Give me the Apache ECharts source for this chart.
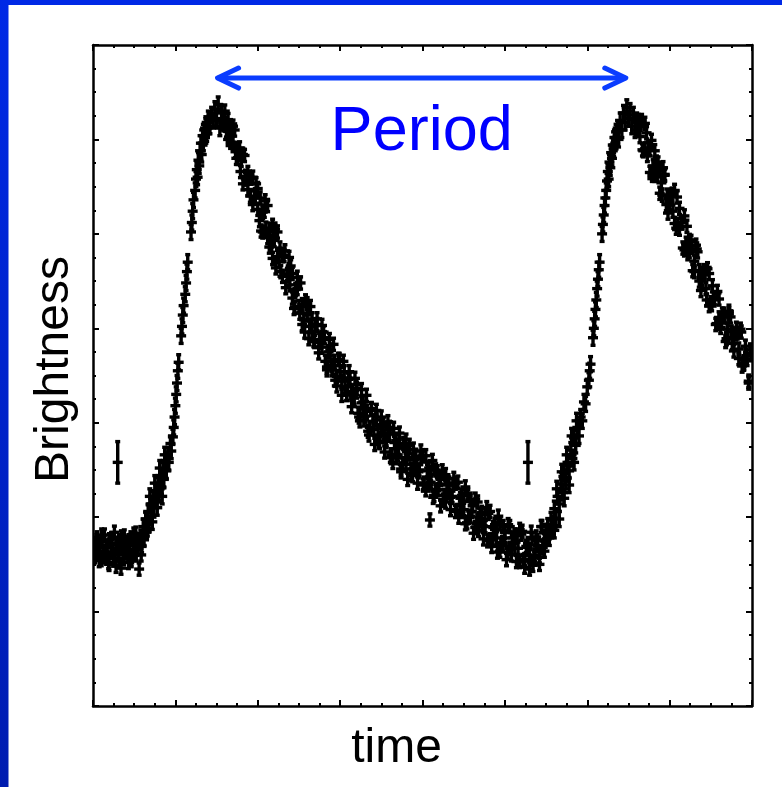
<!DOCTYPE html>
<html><head><meta charset="utf-8">
<script src="https://cdn.jsdelivr.net/npm/echarts@6/dist/echarts.min.js"></script>
<style>html,body{margin:0;padding:0;background:#fff;}#c{width:782px;height:787px;}</style>
</head><body><div id="c"></div>
<script>
// Axis ranges (arbitrary units: 8 time divisions, 7 brightness divisions)
const timeRange = [0, 8];
const brightRange = [0, 7];
const errNormal = 0.065;
const errRise = 0.08;

// Observations [time, brightness]
const minObs1 = [[0.01,1.72],[0.02,1.58],[0.04,1.66],[0.05,1.78],[0.07,1.62],[0.08,1.70],[0.10,1.55],[0.11,1.74],[0.13,1.64],[0.14,1.81],[0.16,1.59],[0.17,1.68],[0.19,1.52],[0.20,1.76],[0.22,1.63],[0.23,1.71],[0.25,1.57],[0.26,1.84],[0.28,1.48],[0.29,1.67],[0.31,1.60],[0.32,1.75],[0.34,1.46],[0.35,1.69],[0.37,1.56],[0.38,1.80],[0.40,1.62],[0.41,1.72],[0.43,1.52],[0.44,1.66],[0.46,1.78],[0.47,1.58],[0.49,1.70],[0.50,1.63],[0.52,1.83],[0.53,1.66],[0.55,1.74],[0.56,1.45],[0.58,1.80],[0.59,1.69]];
const minObs1b = [[0.015,1.62],[0.045,1.75],[0.075,1.54],[0.105,1.81],[0.135,1.58],[0.165,1.68],[0.195,1.50],[0.225,1.77],[0.255,1.61],[0.285,1.72],[0.315,1.55],[0.345,1.79],[0.375,1.65],[0.405,1.63],[0.435,1.75],[0.465,1.54],[0.495,1.82],[0.525,1.60],[0.555,1.73],[0.585,1.60]];

const riseObs1 = [[0.61,1.90],[0.62,1.78],[0.64,1.98],[0.65,1.84],[0.66,1.88],[0.67,2.05],[0.68,1.93],[0.69,2.22],[0.70,2.14],[0.71,2.00],[0.72,1.95],[0.73,2.20],[0.74,2.10],[0.75,2.36],[0.76,2.27],[0.77,2.18],[0.78,2.10],[0.79,2.36],[0.80,2.24],[0.81,2.52],[0.82,2.42],[0.83,2.31],[0.84,2.22],[0.85,2.50],[0.86,2.40],[0.87,2.66],[0.88,2.60],[0.89,2.49],[0.91,2.66],[0.92,2.58],[0.94,2.78],[0.95,2.70],[0.97,2.85],[0.98,2.95],[0.99,3.06],[1.00,3.18],[1.01,3.30],[1.02,3.42],[1.03,3.55],[1.04,3.64],[1.07,3.92],[1.08,4.02],[1.09,4.14],[1.10,4.24],[1.12,4.36],[1.13,4.48],[1.14,4.60],[1.15,4.70],[1.19,5.02],[1.20,5.12],[1.21,5.24],[1.22,5.36],[1.24,5.46],[1.25,5.58],[1.26,5.68],[1.27,5.60],[1.28,5.78],[1.29,5.72],[1.30,5.88],[1.31,5.96],[1.32,5.84],[1.33,6.04],[1.34,5.96],[1.35,6.10],[1.36,6.02],[1.37,6.16],[1.38,6.06],[1.39,6.12],[1.40,6.22],[1.42,6.14],[1.44,6.26],[1.46,6.20],[1.48,6.32],[1.50,6.22],[1.52,6.37],[1.54,6.12],[1.56,6.28],[1.58,6.18]];

const fallObs1 = [[1.60,6.30],[1.62,6.09],[1.64,6.00],[1.66,6.13],[1.68,6.11],[1.70,5.97],[1.72,6.10],[1.74,5.80],[1.76,5.80],[1.78,5.91],[1.80,5.78],[1.82,5.53],[1.84,5.83],[1.86,5.58],[1.88,5.47],[1.90,5.60],[1.92,5.59],[1.94,5.31],[1.96,5.39],[1.98,5.53],[2.00,5.48],[2.02,5.14],[2.04,5.03],[2.06,5.23],[2.08,5.24],[2.10,5.06],[2.12,5.30],[2.14,4.86],[2.16,4.90],[2.18,5.09],[2.20,4.93],[2.22,4.64],[2.24,5.02],[2.26,4.71],[2.28,4.60],[2.30,4.77],[2.32,4.77],[2.34,4.43],[2.36,4.56],[2.38,4.75],[2.40,4.66],[2.42,4.32],[2.44,4.21],[2.46,4.41],[2.48,4.42],[2.50,4.23],[2.52,4.48],[2.54,4.04],[2.56,4.09],[2.58,4.29],[2.60,4.14],[2.62,3.89],[2.64,4.23],[2.66,3.96],[2.68,3.87],[2.70,4.03],[2.72,4.04],[2.74,3.74],[2.76,3.85],[2.78,4.03],[2.80,3.96],[2.82,3.65],[2.84,3.56],[2.86,3.75],[2.88,3.77],[2.90,3.61],[2.92,3.83],[2.94,3.45],[2.96,3.49],[2.98,3.67],[3.00,3.54],[3.02,3.29],[3.04,3.65],[3.06,3.38],[3.08,3.30],[3.10,3.46],[3.12,3.47],[3.14,3.17],[3.16,3.29],[3.18,3.47],[3.20,3.40],[3.22,3.10],[3.24,3.02],[3.26,3.21],[3.28,3.22],[3.30,3.07],[3.32,3.29],[3.34,2.91],[3.36,2.95],[3.38,3.14],[3.40,3.01],[3.42,2.77],[3.44,3.13],[3.46,2.87],[3.48,2.79],[3.50,2.96],[3.52,2.98],[3.54,2.69],[3.56,2.82],[3.58,3.01],[3.60,2.95],[3.62,2.66],[3.64,2.58],[3.66,2.79],[3.68,2.81],[3.70,2.66],[3.72,2.89],[3.74,2.51],[3.76,2.56],[3.78,2.76],[3.80,2.63],[3.82,2.40],[3.84,2.76],[3.86,2.51],[3.88,2.44],[3.90,2.61],[3.92,2.64],[3.94,2.36],[3.96,2.50],[3.98,2.70],[4.00,2.65],[4.02,2.36],[4.04,2.29],[4.06,2.49],[4.08,2.52],[4.09,1.97],[4.10,2.37],[4.12,2.60],[4.14,2.23],[4.16,2.28],[4.18,2.48],[4.20,2.35],[4.22,2.12],[4.24,2.49],[4.26,2.23],[4.28,2.16],[4.30,2.34],[4.32,2.36],[4.34,2.08],[4.36,2.22],[4.38,2.41],[4.40,2.36],[4.42,2.07],[4.44,2.00],[4.46,2.20],[4.48,2.23],[4.50,2.08],[4.52,2.32],[4.54,1.94],[4.56,2.00],[4.58,2.19],[4.60,2.06],[4.62,1.83],[4.64,2.19],[4.66,1.93],[4.68,1.86],[4.70,2.03],[4.72,2.05],[4.74,1.77],[4.76,1.90],[4.78,2.10],[4.80,2.04],[4.82,1.76],[4.84,1.69],[4.86,1.89],[4.88,1.92],[4.90,1.78],[4.92,2.01],[4.94,1.64],[4.96,1.70],[4.98,1.90],[5.00,1.78],[5.02,1.55],[5.04,1.92],[5.06,1.67],[5.08,1.60],[5.10,1.78],[5.12,1.81],[5.14,1.53],[5.16,1.67],[5.18,1.87],[5.20,1.82],[5.22,1.54],[5.24,1.47],[5.26,1.69],[5.28,1.72],[5.30,1.59],[5.32,1.84],[5.34,1.49],[5.36,1.57],[5.38,1.79],[5.40,1.70],[5.42,1.50],[5.44,1.90],[5.46,1.68],[5.48,1.64],[5.50,1.86],[5.52,1.92]];
const fallObs1b = [[1.61,6.15],[1.64,6.21],[1.67,5.97],[1.70,6.14],[1.73,5.87],[1.76,5.88],[1.79,5.66],[1.82,5.84],[1.85,5.61],[1.88,5.65],[1.91,5.40],[1.94,5.60],[1.97,5.38],[2.00,5.26],[2.03,5.38],[2.06,5.02],[2.09,5.35],[2.12,4.96],[2.15,5.05],[2.18,4.74],[2.21,5.05],[2.24,4.76],[2.27,4.85],[2.30,4.55],[2.33,4.82],[2.36,4.57],[2.39,4.46],[2.42,4.58],[2.45,4.22],[2.48,4.54],[2.51,4.16],[2.54,4.25],[2.57,3.96],[2.60,4.26],[2.63,4.02],[2.66,4.10],[2.69,3.86],[2.72,4.10],[2.75,3.88],[2.78,3.80],[2.81,3.90],[2.84,3.59],[2.87,3.88],[2.90,3.56],[2.93,3.65],[2.96,3.39],[2.99,3.67],[3.02,3.44],[3.05,3.54],[3.08,3.30],[3.11,3.54],[3.14,3.33],[3.17,3.26],[3.20,3.36],[3.23,3.06],[3.26,3.35],[3.29,3.03],[3.32,3.12],[3.35,2.87],[3.38,3.15],[3.41,2.93],[3.44,3.03],[3.47,2.80],[3.50,3.06],[3.53,2.86],[3.56,2.80],[3.59,2.92],[3.62,2.63],[3.65,2.94],[3.68,2.63],[3.71,2.73],[3.74,2.48],[3.77,2.78],[3.80,2.56],[3.83,2.67],[3.86,2.45],[3.89,2.72],[3.92,2.53],[3.95,2.48],[3.98,2.62],[4.01,2.34],[4.04,2.65],[4.07,2.34],[4.10,2.45],[4.13,2.21],[4.16,2.50],[4.19,2.29],[4.22,2.40],[4.25,2.18],[4.28,2.45],[4.31,2.26],[4.34,2.21],[4.37,2.34],[4.40,2.06],[4.43,2.37],[4.46,2.06],[4.49,2.17],[4.52,1.93],[4.55,2.23],[4.58,2.01],[4.61,2.12],[4.64,1.89],[4.67,2.16],[4.70,1.96],[4.73,1.91],[4.76,2.03],[4.79,1.75],[4.82,2.06],[4.85,1.76],[4.88,1.87],[4.91,1.63],[4.94,1.93],[4.97,1.73],[5.00,1.84],[5.03,1.63],[5.06,1.90],[5.09,1.72],[5.12,1.67],[5.15,1.81],[5.18,1.53],[5.21,1.85],[5.24,1.55],[5.27,1.68],[5.30,1.45],[5.33,1.77],[5.36,1.60],[5.39,1.75],[5.42,1.58],[5.45,1.90],[5.48,1.76],[5.51,1.77]];

const riseObs2 = [[5.54,1.78],[5.56,1.97],[5.58,1.88],[5.60,2.09],[5.62,1.99],[5.64,2.22],[5.66,2.14],[5.68,2.35],[5.70,2.26],[5.72,2.47],[5.74,2.38],[5.76,2.58],[5.78,2.49],[5.80,2.71],[5.82,2.62],[5.84,2.84],[5.86,2.76],[5.88,2.95],[5.90,2.86],[5.92,3.06],[5.94,3.02],[5.96,3.22],[5.98,3.20],[6.00,3.38],[6.02,3.45],[6.03,3.55],[6.04,3.62],[6.07,3.90],[6.08,4.00],[6.09,4.10],[6.10,4.20],[6.11,4.30],[6.12,4.42],[6.13,4.52],[6.14,4.62],[6.15,4.70],[6.18,5.00],[6.19,5.10],[6.20,5.20],[6.21,5.30],[6.22,5.38],[6.23,5.46],[6.24,5.56],[6.25,5.66],[6.26,5.58],[6.27,5.76],[6.28,5.70],[6.29,5.86],[6.30,5.80],[6.31,5.94],[6.32,5.90],[6.33,6.02],[6.34,5.96],[6.35,6.08],[6.36,6.02],[6.37,6.12],[6.38,6.00],[6.40,6.20],[6.42,6.10],[6.44,6.28],[6.46,6.18],[6.48,6.34],[6.50,6.22],[6.52,6.30],[6.54,6.14],[6.56,6.26],[6.58,6.10],[6.60,6.20]];
const riseObs2b = [[5.60,1.86],[5.63,2.30],[5.66,1.98],[5.69,2.48],[5.72,2.20],[5.75,2.66],[5.78,2.34],[5.81,2.86],[5.84,2.58],[5.87,3.02]];

const fallObs2 = [[6.62,6.20],[6.64,6.03],[6.66,6.20],[6.68,5.88],[6.70,5.90],[6.72,6.07],[6.74,5.91],[6.76,5.65],[6.78,5.99],[6.80,5.72],[6.82,5.62],[6.84,5.76],[6.86,5.75],[6.88,5.43],[6.90,5.54],[6.92,5.70],[6.94,5.62],[6.96,5.31],[6.98,5.22],[7.00,5.40],[7.02,5.41],[7.04,5.24],[7.06,5.46],[7.08,5.06],[7.10,5.10],[7.12,5.27],[7.14,5.12],[7.16,4.85],[7.18,5.19],[7.20,4.90],[7.22,4.79],[7.24,4.93],[7.26,4.92],[7.28,4.61],[7.30,4.71],[7.32,4.88],[7.34,4.81],[7.36,4.50],[7.38,4.40],[7.40,4.58],[7.42,4.58],[7.44,4.42],[7.46,4.63],[7.48,4.24],[7.50,4.27],[7.52,4.45],[7.54,4.30],[7.56,4.04],[7.58,4.39],[7.60,4.11],[7.62,4.01],[7.64,4.15],[7.66,4.15],[7.68,3.86],[7.70,3.99],[7.72,4.18],[7.74,4.12],[7.76,3.84],[7.78,3.76],[7.80,3.94],[7.82,3.95],[7.84,3.78],[7.86,3.99],[7.88,3.60],[7.90,3.63],[7.92,3.81],[7.94,3.67],[7.96,3.42],[7.98,3.77]];
const fallObs2b = [[6.61,6.10],[6.64,6.19],[6.67,5.89],[6.70,6.17],[6.73,5.83],[6.76,5.89],[6.79,5.62],[6.82,5.88],[6.85,5.62],[6.88,5.67],[6.91,5.41],[6.94,5.63],[6.97,5.41],[7.00,5.32],[7.03,5.42],[7.06,5.11],[7.09,5.39],[7.12,5.05],[7.15,5.12],[7.18,4.83],[7.21,5.08],[7.24,4.81],[7.27,4.87],[7.30,4.60],[7.33,4.84],[7.36,4.61],[7.39,4.52],[7.42,4.61],[7.45,4.30],[7.48,4.58],[7.51,4.25],[7.54,4.32],[7.57,4.05],[7.60,4.31],[7.63,4.06],[7.66,4.12],[7.69,3.89],[7.72,4.15],[7.75,3.96],[7.78,3.90],[7.81,4.00],[7.84,3.68],[7.87,3.96],[7.90,3.62],[7.93,3.71],[7.96,3.44],[7.99,3.72]];

// Observations with large error bars [time, brightness, error]
const wideObs = [[0.30,2.58,0.22],[5.28,2.58,0.22],[3.80,2.74,0.14]];

// Period annotation: [startTime, level, endTime]
const periodArrow = [[1.50, 6.65, 6.48]];
const periodLabel = [[3.99, 6.07]];
const periodText = 'Period';
const xName = 'time';
const yName = 'Brightness';

const withErr = (arr, e) => arr.map(p => [p[0], p[1], e]);
const allObs = [].concat(
  withErr(minObs1, errNormal), withErr(minObs1b, errNormal),
  withErr(riseObs1, errRise),
  withErr(fallObs1, errNormal), withErr(fallObs1b, errNormal),
  withErr(riseObs2, errRise), withErr(riseObs2b, errRise),
  withErr(fallObs2, errNormal), withErr(fallObs2b, errNormal),
  wideObs);

const FONT = '"Liberation Sans", Arial, Helvetica, sans-serif';
const blue = '#0a3cff';

function axisCommon(pos, isX) {
  return {
    type: 'value', position: pos,
    min: isX ? timeRange[0] : brightRange[0],
    max: isX ? timeRange[1] : brightRange[1],
    interval: 1,
    axisLine: { show: true, onZero: false, lineStyle: { color: '#000', width: 2.5 } },
    axisTick: { show: true, inside: true, length: 6, lineStyle: { color: '#000', width: 2 } },
    minorTick: { show: true, splitNumber: 4, length: 3, lineStyle: { color: '#000', width: 2 } },
    axisLabel: { show: false },
    splitLine: { show: false }
  };
}

const chart = echarts.init(document.getElementById('c'), null, { renderer: 'canvas' });

const xBottom = Object.assign(axisCommon('bottom', true), {
  name: xName, nameLocation: 'middle', nameGap: 19,
  nameTextStyle: { fontFamily: FONT, fontSize: 48, color: '#000', verticalAlign: 'top', padding: [0, 52, 0, 0] }
});
const yLeft = Object.assign(axisCommon('left', false), {
  name: yName, nameLocation: 'middle', nameGap: 14,
  nameTextStyle: { fontFamily: FONT, fontSize: 48, color: '#000', verticalAlign: 'bottom', padding: [0, 0, 0, 12] }
});

chart.setOption({
  animation: false,
  backgroundColor: '#fff',
  graphic: [
    { type: 'rect', left: 0, top: 0, shape: { width: 782, height: 5 }, style: { fill: '#0029e6' }, z: 100 },
    { type: 'rect', left: 0, top: 0, shape: { width: 8.5, height: 787 }, z: 100,
      style: { fill: new echarts.graphic.LinearGradient(0, 0, 0, 1, [
        { offset: 0, color: '#0029e6' }, { offset: 1, color: '#001cb0' }]) } }
  ],
  grid: { left: 93, top: 45, right: 30, bottom: 81, containLabel: false },
  xAxis: [xBottom, axisCommon('top', true)],
  yAxis: [yLeft, axisCommon('right', false)],
  series: [
    {
      type: 'custom', name: 'obs', xAxisIndex: 0, yAxisIndex: 0, clip: true,
      data: allObs,
      encode: { x: 0, y: 1 },
      renderItem: function (params, api) {
        const t = api.value(0), b = api.value(1), e = api.value(2);
        const c = api.coord([t, b]);
        const top = api.coord([t, b + e]);
        const bot = api.coord([t, b - e]);
        const hw = 5, cap = 2.5;
        const st = { stroke: '#000', lineWidth: 3.4 };
        return {
          type: 'group',
          children: [
            { type: 'line', shape: { x1: c[0], y1: top[1], x2: c[0], y2: bot[1] }, style: st },
            { type: 'line', shape: { x1: c[0] - hw, y1: c[1], x2: c[0] + hw, y2: c[1] }, style: st },
            { type: 'line', shape: { x1: c[0] - cap, y1: top[1], x2: c[0] + cap, y2: top[1] }, style: st },
            { type: 'line', shape: { x1: c[0] - cap, y1: bot[1], x2: c[0] + cap, y2: bot[1] }, style: st }
          ]
        };
      }
    },
    {
      type: 'custom', name: 'period', xAxisIndex: 0, yAxisIndex: 0, clip: false, z: 5,
      data: periodArrow,
      encode: { x: [0, 2], y: 1 },
      renderItem: function (params, api) {
        const p1 = api.coord([api.value(0), api.value(1)]);
        const p2 = api.coord([api.value(2), api.value(1)]);
        const st = { stroke: blue, lineWidth: 5, lineCap: 'round', lineJoin: 'round', fill: null };
        return {
          type: 'group',
          children: [
            { type: 'line', shape: { x1: p1[0] + 2, y1: p1[1], x2: p2[0] - 2, y2: p2[1] }, style: st },
            { type: 'polyline', shape: { points: [[p1[0] + 22, p1[1] - 10], [p1[0] + 1, p1[1]], [p1[0] + 22, p1[1] + 10]] }, style: st },
            { type: 'polyline', shape: { points: [[p2[0] - 22, p2[1] - 10], [p2[0] - 1, p2[1]], [p2[0] - 22, p2[1] + 10]] }, style: st }
          ]
        };
      }
    },
    {
      type: 'custom', name: 'periodLabel', xAxisIndex: 0, yAxisIndex: 0, clip: false, z: 5,
      data: periodLabel,
      encode: { x: 0, y: 1 },
      renderItem: function (params, api) {
        const p = api.coord([api.value(0), api.value(1)]);
        return {
          type: 'text',
          style: {
            text: periodText, x: p[0], y: p[1],
            align: 'center', verticalAlign: 'middle',
            textAlign: 'center', textVerticalAlign: 'middle',
            fontSize: 63, fontFamily: FONT, fill: '#0000ff'
          }
        };
      }
    }
  ]
});
</script>
</body></html>
